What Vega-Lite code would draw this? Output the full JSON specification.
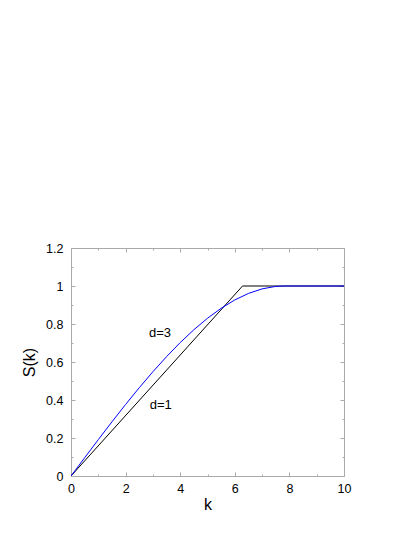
{
  "$schema": "https://vega.github.io/schema/vega-lite/v6.json",
  "width": 273,
  "height": 228,
  "autosize": {"type": "none"},
  "padding": {"left": 71, "top": 248, "right": 71, "bottom": 61},
  "background": "white",
  "config": {
    "view": {"stroke": null},
    "axis": {
      "grid": false,
      "labelFlush": false,
      "domainColor": "#aaaaaa",
      "tickColor": "#aaaaaa",
      "labelFont": "Liberation Sans",
      "labelFontSize": 12.5,
      "labelColor": "#000000",
      "titleFont": "Liberation Sans",
      "titleFontSize": 16,
      "titleFontWeight": "normal",
      "titleColor": "#000000"
    }
  },
  "datasets": {
    "curves": [
      {"k": 0, "S": 0, "d": "1"},
      {"k": 6.283, "S": 1, "d": "1"},
      {"k": 10, "S": 1, "d": "1"},
      {"k": 0, "S": 0, "d": "3"},
      {"k": 0.5, "S": 0.0961, "d": "3"},
      {"k": 1, "S": 0.1914, "d": "3"},
      {"k": 1.5, "S": 0.2851, "d": "3"},
      {"k": 2, "S": 0.3764, "d": "3"},
      {"k": 2.5, "S": 0.4646, "d": "3"},
      {"k": 3, "S": 0.5488, "d": "3"},
      {"k": 3.5, "S": 0.6282, "d": "3"},
      {"k": 4, "S": 0.7021, "d": "3"},
      {"k": 4.5, "S": 0.7697, "d": "3"},
      {"k": 5, "S": 0.8302, "d": "3"},
      {"k": 5.5, "S": 0.8827, "d": "3"},
      {"k": 6, "S": 0.9266, "d": "3"},
      {"k": 6.5, "S": 0.9609, "d": "3"},
      {"k": 7, "S": 0.9849, "d": "3"},
      {"k": 7.5, "S": 0.9979, "d": "3"},
      {"k": 7.8, "S": 1.0, "d": "3"},
      {"k": 10, "S": 1.0, "d": "3"}
    ],
    "labels": [
      {"k": 3.26, "S": 0.753, "text": "d=3"},
      {"k": 3.29, "S": 0.374, "text": "d=1"}
    ]
  },
  "resolve": {"axis": {"x": "independent", "y": "independent"}},
  "layer": [
    {
      "data": {"name": "curves"},
      "mark": {"type": "line", "strokeWidth": 1, "clip": true},
      "encoding": {
        "x": {
          "field": "k", "type": "quantitative",
          "scale": {"domain": [0, 10], "nice": false, "zero": false},
          "axis": {
            "orient": "bottom",
            "title": "k",
            "values": [0, 1, 2, 3, 4, 5, 6, 7, 8, 9, 10],
            "labelExpr": "datum.value % 2 == 0 ? datum.label : ''",
            "tickSize": {"condition": {"test": "datum.value % 2 == 0", "value": -4}, "value": -2},
            "labelPadding": 10,
            "titlePadding": 2
          }
        },
        "y": {
          "field": "S", "type": "quantitative",
          "scale": {"domain": [0, 1.2], "nice": false},
          "axis": {
            "orient": "left",
            "title": "S(k)",
            "values": [0, 0.1, 0.2, 0.3, 0.4, 0.5, 0.6, 0.7, 0.8, 0.9, 1, 1.1, 1.2],
            "format": "~g",
            "labelExpr": "round(datum.value * 10) % 2 == 0 ? datum.label : ''",
            "tickSize": {"condition": {"test": "round(datum.value * 10) % 2 == 0", "value": -4}, "value": -2},
            "labelPadding": 12,
            "titlePadding": 8
          }
        },
        "color": {
          "field": "d", "type": "nominal",
          "scale": {"domain": ["1", "3"], "range": ["#000000", "#0000ff"]},
          "legend": null
        },
        "detail": {"field": "d"}
      }
    },
    {
      "data": {"name": "curves"},
      "mark": {"type": "line", "opacity": 0},
      "encoding": {
        "x": {
          "field": "k", "type": "quantitative",
          "axis": {
            "orient": "top",
            "title": null,
            "labels": false,
            "values": [0, 1, 2, 3, 4, 5, 6, 7, 8, 9, 10],
            "tickSize": {"condition": {"test": "datum.value % 2 == 0", "value": -4}, "value": -2}
          }
        },
        "y": {
          "field": "S", "type": "quantitative",
          "axis": {
            "orient": "right",
            "title": null,
            "labels": false,
            "values": [0, 0.1, 0.2, 0.3, 0.4, 0.5, 0.6, 0.7, 0.8, 0.9, 1, 1.1, 1.2],
            "tickSize": {"condition": {"test": "round(datum.value * 10) % 2 == 0", "value": -4}, "value": -2}
          }
        },
        "detail": {"field": "d"}
      }
    },
    {
      "data": {"name": "labels"},
      "mark": {"type": "text", "font": "Liberation Sans", "fontSize": 13, "color": "#000000", "align": "center", "baseline": "middle"},
      "encoding": {
        "x": {"field": "k", "type": "quantitative", "axis": null},
        "y": {"field": "S", "type": "quantitative", "axis": null},
        "text": {"field": "text"}
      }
    }
  ]
}
